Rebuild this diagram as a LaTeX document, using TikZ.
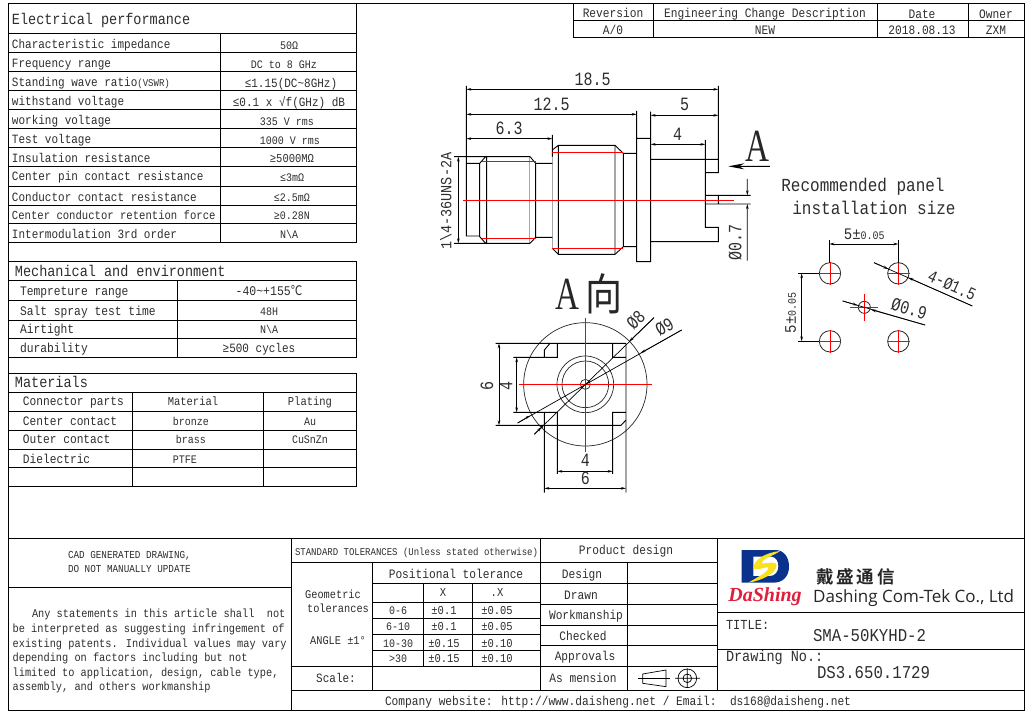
\documentclass[tikz,border=0pt]{standalone}
\usepackage{fontspec}
\usepackage{graphicx}
\usetikzlibrary{arrows.meta}
\setmainfont{Liberation Mono}
\newfontfamily\cjk{Noto Sans CJK SC}
\newfontfamily\cjkb{Noto Sans CJK SC Bold}
\newfontfamily\logofont{Open Sans}
\newfontfamily\scriptf{Liberation Serif}
\newcounter{tn}
\newcommand{\tx}[3][]{\stepcounter{tn}\node[lbl,#1] (t\arabic{tn}) at (#2) {\scalebox{1}[1.15]{#3}};}
\newcommand{\dl}[3][]{\stepcounter{tn}\node[lbl,#1] (t\arabic{tn}) at (#2) {\scalebox{1}[1.25]{#3}};}
\newcommand{\tl}{{\char126 }}
\tikzset{
  lbl/.style={inner sep=0pt,outer sep=0pt,text=black!82,text height=.62em,text depth=0pt,yshift=-1.2pt},
  fs/.style={font=\fontsize{#1}{#1}\selectfont},
  wst/.style={anchor=west},
  tb/.style={line width=1pt,black},
  geo/.style={line width=.9pt,black},
  hl/.style={line width=1.5pt,black!35},
  rd/.style={line width=.9pt,red},
  dimn/.style={line width=.7pt,black,{Stealth[length=5pt,width=2.6pt]}-{Stealth[length=5pt,width=2.6pt]}},
  dimh/.style={line width=.7pt,black,-{Stealth[length=5pt,width=2.6pt]}},
  hole/.style={line width=.8pt,black!85}
}
\begin{document}
\begin{tikzpicture}[x=1pt,y=-1pt]
\useasboundingbox (0,0) rectangle (1034,714);
\fill[white] (0,0) rectangle (1034,714);
% ---------- frame
\draw[tb] (8,3.5) rectangle (1024,710);
% ---------- electrical table
\draw[tb] (356,3.5) -- (356,243) -- (8,243);
\foreach \y in {34,53,72,91,110,129,148,167,187,205.5,224} \draw[tb] (8,\y) -- (356,\y);
\draw[tb] (220,34) -- (220,243);
\tx[wst,fs=13.5]{12,20.5}{Electrical performance}
\tx[wst,fs=11]{12,44}{Characteristic impedance}
\tx[wst,fs=11]{12,63}{Frequency range}
\tx[wst,fs=11]{12,82}{Standing wave ratio{\fontsize{9}{9}\selectfont(VSWR)}}
\tx[wst,fs=11]{12,101}{withstand voltage}
\tx[wst,fs=11]{12,120}{working voltage}
\tx[wst,fs=11]{12,139}{Test voltage}
\tx[wst,fs=11]{12,158}{Insulation resistance}
\tx[wst,fs=11]{12,176}{Center pin contact resistance}
\tx[wst,fs=11]{12,197}{Conductor contact resistance}
\tx[wst,fs=10.6]{12,215}{Center conductor retention force}
\tx[wst,fs=11]{12,234}{Intermodulation 3rd order}
\tx[fs=10]{289,45}{50Ω}
\tx[fs=10]{284,64}{DC to 8 GHz}
\tx[fs=11]{291,83}{≤1.15(DC\tl 8GHz)}
\tx[fs=11]{289,102}{≤0.1 x √f(GHz) dB}
\tx[fs=10]{287,121}{335 V rms}
\tx[fs=10]{290,140}{1000 V rms}
\tx[fs=10.5]{292,158}{≥5000MΩ}
\tx[fs=10]{292,177}{≤3mΩ}
\tx[fs=10]{292,197}{≤2.5mΩ}
\tx[fs=10]{292,215}{≥0.28N}
\tx[fs=10]{289,234}{N\textbackslash A}
% ---------- mechanical table
\draw[tb] (8,262) -- (356,262) -- (356,357) -- (8,357);
\foreach \y in {281,301,320,338} \draw[tb] (8,\y) -- (356,\y);
\draw[tb] (177,281) -- (177,357);
\tx[wst,fs=13.5]{15,272}{Mechanical and environment}
\tx[wst,fs=11.3]{20,291}{Tempreture range}
\tx[wst,fs=11.3]{20,311}{Salt spray test time}
\tx[wst,fs=11.3]{20,329}{Airtight}
\tx[wst,fs=11.3]{20,348}{durability}
\tx[fs=11.5]{269,291}{-40\tl +155{\cjk ℃}}
\tx[fs=10]{269,311}{48H}
\tx[fs=10]{269,329}{N\textbackslash A}
\tx[fs=11]{259,348}{≥500 cycles}
% ---------- materials table
\draw[tb] (8,373) -- (356,373) -- (356,486) -- (8,486);
\foreach \y in {392,411,430,449,467} \draw[tb] (8,\y) -- (356,\y);
\draw[tb] (132,392) -- (132,486) (263,392) -- (263,486);
\tx[wst,fs=13.5]{15,383}{Materials}
\tx[wst,fs=11.2]{23,401}{Connector parts}
\tx[wst,fs=11.2]{23,421}{Center contact}
\tx[wst,fs=11.2]{23,439}{Outer contact}
\tx[wst,fs=11.2]{23,459}{Dielectric}
\tx[fs=10.5]{193,401}{Material}
\tx[fs=10]{191,421}{bronze}
\tx[fs=10]{191,439}{brass}
\tx[fs=10]{185,459}{PTFE}
\tx[fs=10.5]{310,401}{Plating}
\tx[fs=10]{310,421}{Au}
\tx[fs=10]{310,439}{CuSnZn}
% ---------- revision table
\draw[tb] (573,3.5) -- (573,38) -- (1024,38) (573,21) -- (1024,21);
\foreach \x in {653,877,968} \draw[tb] (\x,3.5) -- (\x,38);
\tx[fs=11.2]{613,13}{Reversion}
\tx[fs=11.2]{765,13}{Engineering Change Description}
\tx[fs=11.2]{922,14}{Date}
\tx[fs=11.2]{996,14}{Owner}
\tx[fs=11.2]{613,30}{A/0}
\tx[fs=11.2]{765,30}{NEW}
\tx[fs=11.2]{922,30}{2018.08.13}
\tx[fs=11.2]{996,30}{ZXM}
% ---------- side view
\begin{scope}[shift={(430,60)},scale=1/3]
 \draw[hl] (298,290) -- (298,550) (367,270) -- (367,565) (555,256) -- (555,583);
 \draw[geo] (109,78) -- (109,528) -- (149,528) (109,310) -- (149,310) -- (167,290)
   (72,290) -- (300,290) -- (317,310) -- (367,310)
   (72,550) -- (300,550) -- (317,532) -- (367,532)
   (149,310) -- (149,530) -- (167,550) (170,290) -- (170,550) (317,310) -- (317,532)
   (367,225) -- (367,290)
   (367,270) -- (385,256) -- (555,256) -- (580,280) -- (580,560) -- (555,583) -- (385,583) -- (367,565)
   (385,256) -- (385,583)
   (580,280) -- (620,280) (580,560) -- (620,560)
   (620,153) -- (620,605) -- (662,605) -- (662,155) (620,235) -- (662,235)
   (662,298) -- (865,298) (865,78) -- (865,338) -- (826,338) (826,240) -- (826,502) -- (865,502) -- (865,545) -- (662,545)
   (826,406) -- (962,406) (826,432) -- (962,432) (865,406) -- (865,432);
 \draw[rd] (155,305) -- (317,305) (155,535) -- (317,535) (367,277) -- (580,277) (367,565) -- (580,565) (100,421) -- (912,421);
 \draw[dimn] (109,88) -- (865,88);
 \draw[dimn] (109,163) -- (620,163);
 \draw[dimn] (109,236) -- (367,236);
 \draw[dimn] (662,166) -- (865,166);
 \draw[dimn] (662,253) -- (826,253);
 \draw[dimn] (85,290) -- (85,550);
 \coordinate (p1) at (952,357); \coordinate (p2) at (952,602);
 \draw[dimh] (p1) -- (952,406);
 \draw[dimh] (p2) -- (952,432);
 \coordinate (a1) at (1020,319);
 \draw[line width=.9pt,black,-{Stealth[length=16pt,width=6pt]}] (a1) -- (895,319);
 \dl[fs=15]{488,63}{18.5}
 \dl[fs=15]{365,138}{12.5}
 \dl[fs=15]{237,210}{6.3}
 \dl[fs=15]{764,140}{5}
 \dl[fs=15]{743,228}{4}
 \tx[fs=13.5,rotate=90]{55,420}{1\textbackslash 4-36UNS-2A}
 \dl[fs=15,rotate=90]{925,543}{Ø0.7}
\end{scope}
\stepcounter{tn}\node[inner sep=0pt,text=black!85,xscale=.72,transform shape,font=\fontsize{46}{46}\selectfont\scriptf] (bigA) at (757,146) {A};
% ---------- A view
\stepcounter{tn}\node[inner sep=0pt,text=black!85,xscale=.72,transform shape,font=\fontsize{46}{46}\selectfont\scriptf] (bigB) at (567,294) {A};
\stepcounter{tn}\node[inner sep=0pt,text=black!85,yscale=1.18,transform shape,font=\fontsize{37}{37}\selectfont\cjk] (dirc) at (604,293.5) {向};
\begin{scope}[shift={(480,270)},scale=1/3]
 \draw[line width=.7pt,black!85] (316,343) circle (185);
 \draw[line width=.7pt,black!85] (316,343) circle (85) (316,343) circle (70) (316,343) circle (15);
 \draw[geo] (47,220) -- (438,220) (193,240) -- (210,220) (193,240) -- (193,262)
   (100,262) -- (232,262) -- (232,220) (398,220) -- (398,262) -- (438,262)
   (438,220) -- (438,668)
   (100,427) -- (232,427) -- (232,612) (398,612) -- (398,427) -- (438,427)
   (47,466) -- (423,466) -- (438,450) (193,427) -- (193,668);
 \draw[rd] (118,343) -- (516,343) (316,145) -- (316,545);
 \draw[dimn] (57,220) -- (57,466);
 \draw[dimn] (110,262) -- (110,427);
 \draw[dimn] (232,604) -- (398,604);
 \draw[dimn] (193,655) -- (438,655);
 \coordinate (l1) at (163,493); \coordinate (l2) at (522,143);
 \coordinate (l3) at (113,459); \coordinate (l4) at (605,180);
 \draw[line width=.7pt,black] (l1) -- (l2) (l3) -- (l4);
 \draw[dimh] (l2) -- (447,215);
 \draw[dimh] (l1) -- (185,471);
 \draw[dimh] (l4) -- (482,249);
 \draw[dimh] (l3) -- (150,437);
 \fill (185,471) circle (4);
 \dl[fs=15,rotate=90]{30,343}{6}
 \dl[fs=15,rotate=90]{88,343}{4}
 \dl[fs=15]{316,578}{4}
 \dl[fs=15]{316,630}{6}
 \dl[fs=15,rotate=45]{474,152}{Ø8}
 \dl[fs=15,rotate=30]{558,175}{Ø9}
\end{scope}
% ---------- panel
\tx[fs=16]{863,187}{Recommended panel}
\tx[fs=16]{874,210}{installation size}
\begin{scope}[shift={(770,170)},scale=1/3]
 \draw[hole] (180,310) circle (32) (385,310) circle (32) (180,514) circle (32) (385,514) circle (32) (283,412) circle (18);
 \foreach \cx/\cy in {180/310,385/310,180/514,385/514}
   \draw[rd] (\cx-34,\cy) -- (\cx+34,\cy) (\cx,\cy-34) -- (\cx,\cy+34);
 \draw[rd] (241,412) -- (325,412) (283,372) -- (283,452);
 \draw[geo] (178,210) -- (178,280) (385,210) -- (385,280) (85,310) -- (148,310) (85,514) -- (148,514);
 \draw[dimn] (178,222) -- (385,222);
 \draw[dimn] (95,310) -- (95,514);
 \coordinate (q1) at (312,278); \coordinate (q2) at (607,408);
 \coordinate (r1) at (218,393); \coordinate (r2) at (465,465);
 \draw[line width=.7pt] (q1) -- (q2) (r1) -- (r2);
 \draw[dimh] (q1) -- (355,297);
 \draw[dimh] (q2) -- (415,323);
 \draw[dimh] (r1) -- (263,406);
 \draw[dimh] (r2) -- (303,419);
 \tx[fs=14]{283,197}{5±{\fontsize{10}{10}\selectfont 0.05}}
 \tx[fs=14,rotate=90]{68,425}{5±{\fontsize{10}{10}\selectfont 0.05}}
 \dl[fs=14,rotate=-24]{543,350}{4-Ø1.5}
 \dl[fs=15,rotate=-16]{415,422}{Ø0.9}
\end{scope}
% ---------- title block
\draw[tb] (8,538.5) -- (1024,538.5) (8,587) -- (291,587) (291,538.5) -- (291,710);
\draw[tb] (291,562) -- (717,562) (291,666) -- (372,666) (291,690) -- (1024,690);
\draw[tb] (372,562) -- (372,690) (540,538.5) -- (540,690) (717,538.5) -- (717,690) (627,562) -- (627,690);
\draw[tb] (372,583) -- (717,583) (372,602) -- (540,602) (372,618) -- (540,618) (372,634) -- (540,634) (372,650) -- (540,650) (372,666) -- (717,666);
\draw[tb] (540,604) -- (717,604) (540,625) -- (717,625) (540,645) -- (717,645);
\draw[tb] (423,583) -- (423,666) (472,583) -- (472,666);
\draw[tb] (717,612) -- (1024,612) (717,649) -- (1024,649);
\tx[wst,fs=9.3]{68,554}{CAD GENERATED DRAWING,}
\tx[wst,fs=9.3]{68,568}{DO NOT MANUALLY UPDATE}
\tx[wst,fs=10.3]{32,613}{Any statements in this article shall\ \ not}
\tx[wst,fs=10.3]{12.7,628}{be interpreted as suggesting infringement of}
\tx[wst,fs=10.3]{12.7,643}{existing patents. Individual values may vary}
\tx[wst,fs=10.3]{12.7,657}{depending on factors including but not}
\tx[wst,fs=10.3]{12.7,672}{limited to application, design, cable type,}
\tx[wst,fs=10.3]{12.7,686}{assembly, and others workmanship}
\tx[wst,fs=9]{295,551}{STANDARD TOLERANCES (Unless stated otherwise)}
\tx[fs=10.3]{333,594}{Geometric}
\tx[fs=10.3]{338,608}{tolerances}
\tx[fs=10.3]{338,640}{ANGLE ±1°}
\tx[fs=11]{336,678}{Scale:}
\tx[fs=11.2]{456,574}{Positional tolerance}
\tx[fs=10.5]{443,592}{X}
\tx[fs=10.5]{497,592}{.X}
\tx[fs=10]{398,610}{0-6}
\tx[fs=10]{398,626}{6-10}
\tx[fs=10]{398,643}{10-30}
\tx[fs=10]{398,658}{>30}
\tx[fs=10.5]{444,610}{±0.1}
\tx[fs=10.5]{444,626}{±0.1}
\tx[fs=10.5]{444,643}{±0.15}
\tx[fs=10.5]{444,658}{±0.15}
\tx[fs=10.5]{497,610}{±0.05}
\tx[fs=10.5]{497,626}{±0.05}
\tx[fs=10.5]{497,643}{±0.10}
\tx[fs=10.5]{497,658}{±0.10}
\tx[fs=11.2]{626,550}{Product design}
\tx[fs=11.2]{582,574}{Design}
\tx[fs=11.2]{581,595}{Drawn}
\tx[fs=11.2]{586,615}{Workmanship}
\tx[fs=11.2]{583,636}{Checked}
\tx[fs=11.2]{585,656}{Approvals}
\tx[fs=11.2]{583,678}{As mension}
\begin{scope}[shift={(360,530)},scale=1/3]
 \draw[line width=.7pt,black] (848,432) -- (918,420) -- (918,470) -- (848,460) -- cycle;
 \draw[line width=.7pt,black] (835,445) -- (930,445);
 \draw[line width=.7pt,black] (982,445) circle (28) (982,445) circle (13) (945,445) -- (1020,445) (982,415) -- (982,472);
\end{scope}
\tx[wst,fs=11.2]{385,701}{Company website: http://www.daisheng.net / Email:}
\tx[wst,fs=11.2]{730,701}{ds168@daisheng.net}
\tx[wst,fs=12]{726,625}{TITLE:}
\tx[wst,fs=15.7]{813,637}{SMA-50KYHD-2}
\tx[wst,fs=13.5]{726,657}{Drawing No.:}
\tx[wst,fs=15.7]{817,674}{DS3.650.1729}
% logo
\begin{scope}[shift={(725,540)},scale=1/3]
 \fill[even odd rule,fill={rgb,255:red,10;green,50;blue,140}] (50,30) -- (150,30) .. controls (180,30) and (192,55) .. (192,80) .. controls (192,108) and (175,128) .. (145,128) -- (50,128) -- cycle
   (85,50) -- (140,50) .. controls (155,52) and (160,65) .. (160,80) .. controls (160,95) and (150,108) .. (135,108) -- (85,108) -- cycle;
 \fill[fill={rgb,255:red,250;green,225;blue,30}] (165,33) .. controls (120,38) and (85,60) .. (85,85) .. controls (95,95) and (130,75) .. (130,85) .. controls (125,100) and (90,115) .. (70,128) .. controls (110,122) and (155,100) .. (155,75) .. controls (150,60) and (115,75) .. (110,68) .. controls (115,55) and (150,45) .. (165,33) -- cycle;
\end{scope}
\stepcounter{tn}\node[inner sep=0pt,text={rgb,255:red,225;green,30;blue,60},font=\fontsize{20}{20}\selectfont\scriptf\bfseries\itshape] (ds) at (765,597) {DaShing};
\stepcounter{tn}\node[inner sep=0pt,text=black!85,font=\fontsize{17.5}{17.5}\selectfont\cjkb] (cn) at (855.5,577) {戴\,盛\,通\,信};
\stepcounter{tn}\node[inner sep=0pt,anchor=west,text=black!85,font=\fontsize{17}{17}\selectfont\logofont] (en) at (813,598) {Dashing Com-Tek Co., Ltd};
\end{tikzpicture}
\end{document}
